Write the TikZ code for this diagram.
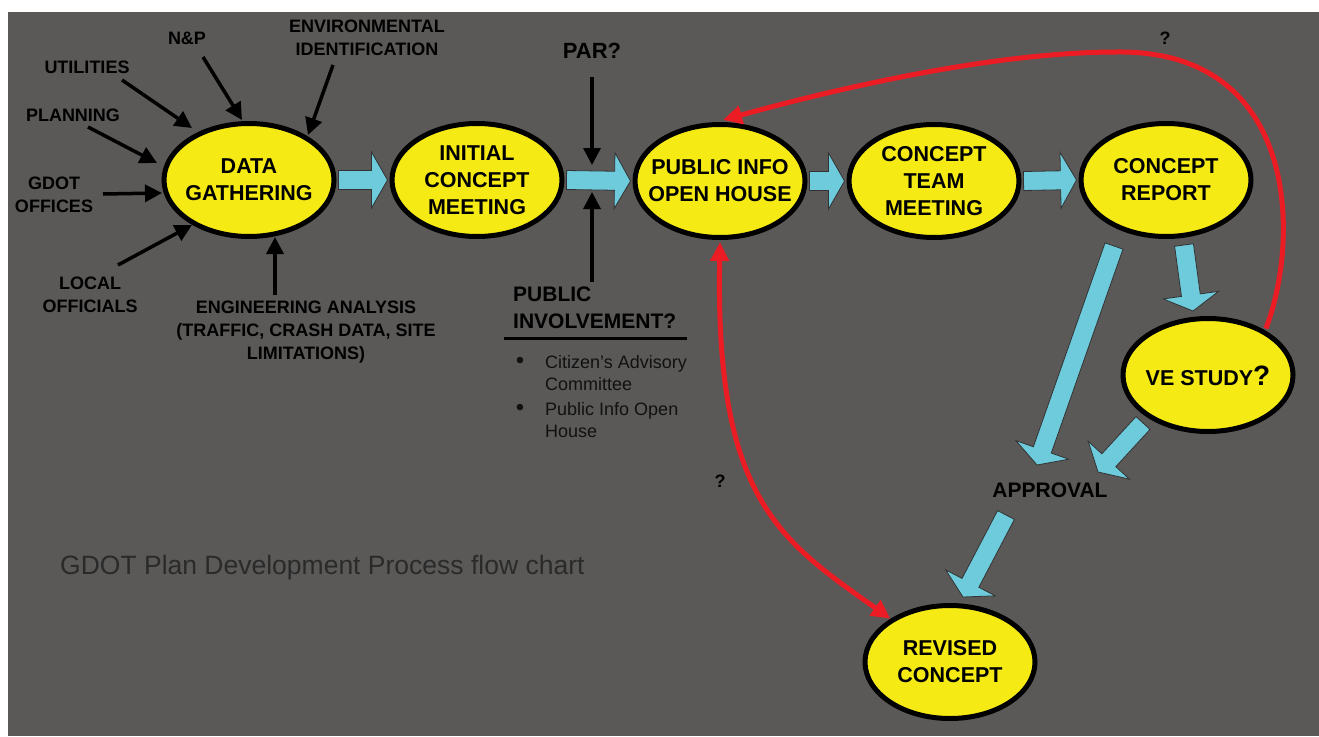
\documentclass[tikz,border=0pt]{standalone}
\usepackage{fontspec}
\setmainfont{Liberation Sans}
\usetikzlibrary{shapes.geometric,arrows.meta,calc}
\definecolor{bgc}{HTML}{5A5958}
\definecolor{yel}{HTML}{F5EA14}
\definecolor{cya}{HTML}{6DCBDC}
\definecolor{redc}{HTML}{EC1C24}
\definecolor{titc}{HTML}{2A2A2A}
\definecolor{bulc}{HTML}{111111}
\newcommand\blockarrow[2]{%
  \coordinate (ba0) at #1;
  \coordinate (ba1) at #2;
  \coordinate (bah) at ($(ba1)!16pt!(ba0)$);
  \filldraw[blockarr] ($(ba0)!9.5pt!90:(ba1)$) -- ($(bah)!9.5pt!-90:(ba0)$) -- ($(bah)!28pt!-90:(ba0)$) -- (ba1) -- ($(bah)!28pt!90:(ba0)$) -- ($(bah)!9.5pt!90:(ba0)$) -- ($(ba0)!9.5pt!-90:(ba1)$) -- cycle;}
\begin{document}
\begin{tikzpicture}[x=1pt,y=-1pt,
  ell/.style={ellipse, draw=black, line width=5pt, fill=yel, minimum width=170pt, minimum height=113pt, inner sep=0pt},
  etxt/.style={font=\bfseries\fontsize{21.5}{27}\selectfont, align=center, inner sep=0pt, text=black},
  lab/.style={font=\bfseries\fontsize{18}{23}\selectfont, align=center, inner sep=0pt, text=black},
  big/.style={font=\bfseries\fontsize{21}{27}\selectfont, inner sep=0pt, text=black},
  bul/.style={font=\fontsize{18}{23}\selectfont, inner sep=0pt, text=bulc},
  blk/.style={line width=3.5pt, draw=black, -{Triangle[length=17pt,width=17pt]}},
  redarr/.style={line width=5pt, draw=redc},
  blockarr/.style={fill=cya, draw=black!80, line width=0.8pt, line join=miter}]
\useasboundingbox (0,0) rectangle (1319,736);
\fill[white] (0,0) rectangle (1319,736);
\fill[bgc] (8,12) rectangle (1319,736);

% ellipses
\node[ell] (dg)  at (249,180) {};
\node[ell] (icm) at (477,180) {};
\node[ell] (pio) at (720,181) {};
\node[ell] (ctm) at (934,181) {};
\node[ell] (cr)  at (1166,180) {};
\node[ell] (ve)  at (1208,375) {};
\node[ell] (rc)  at (950,662) {};
\node[etxt] (dgt)  at (dg)  {DATA\\GATHERING};
\node[etxt] (icmt) at (icm) {INITIAL\\CONCEPT\\MEETING};
\node[etxt] (piot) at (pio) {PUBLIC INFO\\OPEN HOUSE};
\node[etxt] (ctmt) at (ctm) {CONCEPT\\TEAM\\MEETING};
\node[etxt] (crt)  at (cr)  {CONCEPT\\REPORT};
\node[etxt, anchor=base] (vet)  at (1208,385) {VE STUDY{\fontsize{28}{28}\selectfont?}};
\node[etxt] (rct)  at (rc)  {REVISED\\CONCEPT};

% horizontal block arrows
\blockarrow{($(dg.east)+(2,0)$)}{($(icm.west)+(-2,0)$)}
\blockarrow{($(icm.east)+(2,0)$)}{($(pio.west)+(-2,0)$)}
\blockarrow{($(pio.east)+(2,0)$)}{($(ctm.west)+(-2,0)$)}
\blockarrow{($(ctm.east)+(2,0)$)}{($(cr.west)+(-2,0)$)}

% labels
\node[lab] (np)   at (187,38) {N\&P};
\node[lab] (util) at (87,67) {UTILITIES};
\node[lab] (plan) at (73,115) {PLANNING};
\node[lab] (gdot) at (54,195) {GDOT\\OFFICES};
\node[lab] (loc)  at (90,295) {LOCAL\\OFFICIALS};
\node[lab] (env)  at (367,38) {ENVIRONMENTAL\\IDENTIFICATION};
\node[lab] (eng)  at (306,332) {ENGINEERING ANALYSIS\\(TRAFFIC, CRASH DATA, SITE\\LIMITATIONS)};
\node[big, font=\bfseries\fontsize{22}{27}\selectfont] (par) at (592,51) {PAR?};
\node[big, align=left, anchor=north west] (pinv) at (513,287) {PUBLIC\\INVOLVEMENT?};
\node[big] (appr) at (1050,490) {APPROVAL};
\node[lab] (q1) at (1165,38) {?};
\node[lab] (q2) at (720,481) {?};

% underline
\draw[line width=3pt] (504,338) coordinate (ul1) -- (687,338) coordinate (ul2);

% bullets
\node[bul, font=\fontsize{24}{24}\selectfont, anchor=center] (b1) at (520,363) {•};
\node[bul, anchor=base west] (b1a) at (545,368) {Citizen’s Advisory};
\node[bul, anchor=base west] (b1b) at (545,390) {Committee};
\node[bul, font=\fontsize{24}{24}\selectfont, anchor=center] (b2) at (520,410) {•};
\node[bul, anchor=base west] (b2a) at (545,415) {Public Info Open};
\node[bul, anchor=base west] (b2b) at (545,437) {House};

% title
\node[font=\fontsize{26.5}{30}\selectfont, text=titc, inner sep=0pt, anchor=base west] (title) at (60,574) {GDOT Plan Development Process flow chart};

% black arrows
\coordinate (s1) at (88,127);  \coordinate (t1) at (157,163);
\coordinate (s2) at (122,80);  \coordinate (t2) at (192,128);
\coordinate (s3) at (203,57);  \coordinate (t3) at (242,120);
\coordinate (s4) at (333,65);  \coordinate (t4) at (308,135);
\coordinate (s5) at (103,194); \coordinate (t5) at (162,193);
\coordinate (s6) at (118,265); \coordinate (t6) at (192,225);
\coordinate (s7) at (275,295); \coordinate (t7) at (275,237);
\coordinate (s8) at (592,77);  \coordinate (t8) at (592,165);
\coordinate (s9) at (592,282); \coordinate (t9) at (592,192);
\foreach \i in {1,...,9} {\draw[blk] (s\i) -- (t\i);}

% diagonal block arrows
\coordinate (d1s) at (1114,246); \coordinate (d1t) at (1037,465);
\coordinate (d2s) at (1184,245); \coordinate (d2t) at (1193,311);
\coordinate (d3s) at (1143,423); \coordinate (d3t) at (1098,472);
\coordinate (d4s) at (1006,515); \coordinate (d4t) at (963,597);
\blockarrow{(d1s)}{(d1t)}
\blockarrow{(d2s)}{(d2t)}
\blockarrow{(d3s)}{(d3t)}
\blockarrow{(d4s)}{(d4t)}

% red curves
\coordinate (rtop) at (1117,52);
\draw[redarr, -{Triangle[length=19pt,width=18pt]}, shorten <=2pt] (ve.38) .. controls (1300,240) and (1300,50) .. (rtop) .. controls (1000,52) and (850,85) .. ($(pio.north)+(3,-2)$);
\draw[redarr, {Triangle[length=19pt,width=18pt]}-{Triangle[length=19pt,width=18pt]}] ($(pio.south)+(0,2)$) .. controls (715,500) and (780,540) .. (rc.144);
\end{tikzpicture}
\end{document}
